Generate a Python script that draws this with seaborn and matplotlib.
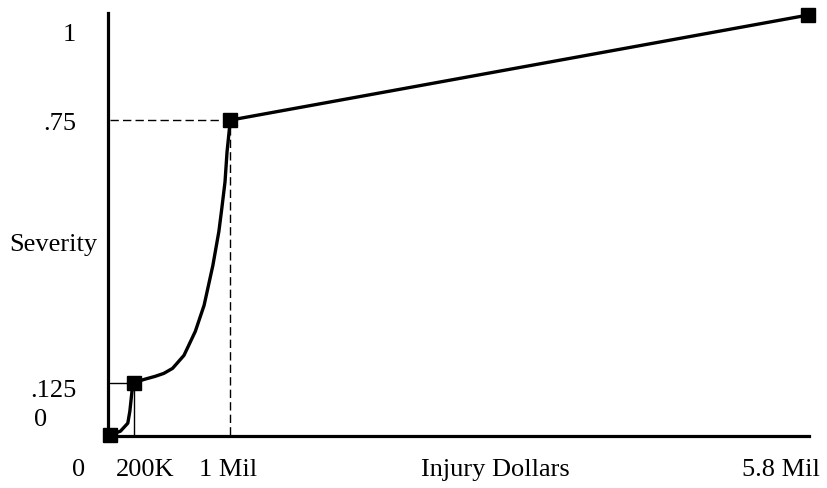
import pandas as pd
import matplotlib.pyplot as plt
import matplotlib.transforms as mtransforms
import seaborn as sns

# Severity curve, x in millions of dollars
curve_x = [0, 0.087, 0.148, 0.165, 0.183, 0.2,
           0.287, 0.375, 0.447, 0.52, 0.615, 0.709, 0.782, 0.855, 0.905, 0.929,
           0.956, 0.973, 1.0,
           5.8]
curve_y = [0, 0.0095, 0.0285, 0.057, 0.105, 0.125,
           0.133, 0.140, 0.147, 0.159, 0.190, 0.247, 0.309, 0.404, 0.485, 0.539,
           0.603, 0.675, 0.75,
           1.0]

# Key points marked with squares
key_x = [0, 0.2, 1.0, 5.8]
key_y = [0, 0.125, 0.75, 1.0]

x_ticks = [0, 0.2, 1.0, 5.8]
x_tick_labels = ['0', '200K', '1 Mil', '5.8 Mil']
y_ticks = [0, 0.125, 0.75, 1.0]
y_tick_labels = ['0', '.125', '.75', '1']

sns.set_style('white')
plt.rcParams['font.family'] = ['Liberation Serif', 'DejaVu Serif']
plt.rcParams['text.color'] = 'black'
plt.rcParams['xtick.color'] = 'black'
plt.rcParams['ytick.color'] = 'black'
plt.rcParams['axes.labelcolor'] = 'black'

fig = plt.figure(figsize=(8.27, 4.89), dpi=100)
ax = fig.add_axes([108 / 827, 52 / 489, 701 / 827, 423 / 489])

curve_df = pd.DataFrame({'x': curve_x, 'y': curve_y})
sns.lineplot(data=curve_df, x='x', y='y', sort=False, estimator=None,
             color='black', linewidth=2.4, ax=ax)

# guide lines to the .125 and .75 points
ax.plot([0, key_x[1]], [key_y[1], key_y[1]], color='black', linewidth=1.0)
ax.plot([key_x[1], key_x[1]], [0, key_y[1]], color='black', linewidth=1.0)
ax.plot([0, key_x[2]], [key_y[2], key_y[2]], color='black', linewidth=1.0, dashes=(6, 3))
ax.plot([key_x[2], key_x[2]], [0, key_y[2]], color='black', linewidth=1.0, dashes=(6, 3))

ax.plot(key_x, key_y, linestyle='none', marker='s', markersize=10.5,
        color='black', clip_on=False, zorder=5)

ax.set_xlim(-0.0166, 5.81)
ax.set_ylim(-0.002, 1.005)

ax.set_xticks(x_ticks)
ax.set_xticklabels(x_tick_labels, fontsize=19)
ax.set_yticks(y_ticks)
ax.set_yticklabels(y_tick_labels, fontsize=19)
ax.tick_params(axis='x', length=0, pad=16)
ax.tick_params(axis='y', length=0, pad=23)

# nudge tick labels to where the original has them
x_shift = [-31, 11, -2, -27]
for lab, dx in zip(ax.get_xticklabels(), x_shift):
    lab.set_transform(lab.get_transform() +
                      mtransforms.ScaledTranslation(dx / 100, 0, fig.dpi_scale_trans))
y_shift = [(-29, 19), (0, -5), (0, 0), (0, -16)]
for lab, (dx, dy) in zip(ax.get_yticklabels(), y_shift):
    lab.set_transform(lab.get_transform() +
                      mtransforms.ScaledTranslation(dx / 100, dy / 100, fig.dpi_scale_trans))

ax.set_xlabel('Injury Dollars', fontsize=19, va='center')
ax.xaxis.set_label_coords(0.553, -0.078)
ax.set_ylabel('Severity', fontsize=19, rotation=0, ha='center', va='center')
ax.yaxis.set_label_coords(-0.078, 0.454)

sns.despine(ax=ax)
for side in ['left', 'bottom']:
    ax.spines[side].set_linewidth(2.3)
    ax.spines[side].set_color('black')

fig.savefig('out.png', dpi=100)
